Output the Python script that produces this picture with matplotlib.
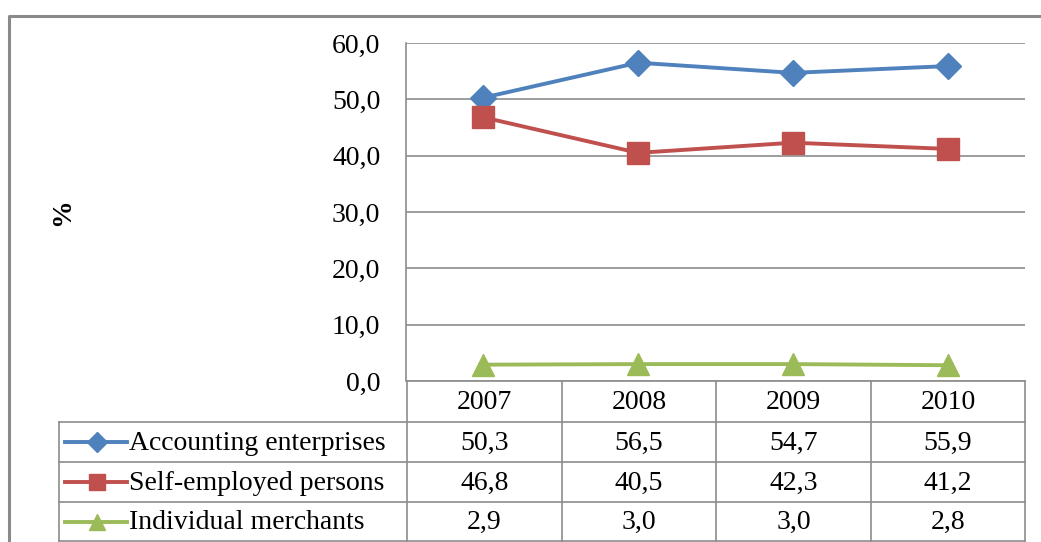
import matplotlib.pyplot as plt

years = ['2007', '2008', '2009', '2010']
series_names = ['Accounting enterprises', 'Self-employed persons', 'Individual merchants']
accounting = [50.3, 56.5, 54.7, 55.9]
self_employed = [46.8, 40.5, 42.3, 41.2]
merchants = [2.9, 3.0, 3.0, 2.8]
y_ticks = [0, 10, 20, 30, 40, 50, 60]

colors = ['#4F81BD', '#C0504D', '#9BBB59']
markers = ['D', 's', '^']
msizes = [13.5, 15.5, 16]

plt.rcParams['font.family'] = ['Liberation Serif', 'DejaVu Serif']
W, H = 1041, 542
FS = 20
fig = plt.figure(figsize=(W / 100, H / 100), dpi=100)

# overlay axes in pixel coordinates for frame + data table
ov = fig.add_axes([0, 0, 1, 1])
ov.set_xlim(0, W)
ov.set_ylim(H, 0)
ov.axis('off')

grid_c = '#8C8C8C'
# outer chart border (runs off right/bottom edge)
ov.plot([9, 9, W + 5], [H + 5, 16, 16], color='#8A8A8A', lw=2.2)

# plot area
x0, x1, ytop, ybot = 406, 1025, 43, 381
ax = fig.add_axes([x0 / W, 1 - ybot / H, (x1 - x0) / W, (ybot - ytop) / H])
ax.set_xlim(-0.5, len(years) - 0.5)
ax.set_ylim(0, 60)
ax.set_yticks(y_ticks)
ax.set_yticklabels([f'{v:.1f}'.replace('.', ',') for v in y_ticks], fontsize=FS)
ax.tick_params(axis='y', length=0, pad=18.5)
ax.set_xticks([])
ax.grid(axis='y', color=grid_c, lw=1.2)
ax.set_axisbelow(True)
for s in ['top', 'right', 'bottom']:
    ax.spines[s].set_visible(False)
ax.spines['left'].set_color(grid_c)
ax.spines['left'].set_linewidth(1.2)
ax.patch.set_alpha(0)

data = [accounting, self_employed, merchants]
xs = list(range(len(years)))
for vals, c, m, ms in zip(data, colors, markers, msizes):
    ax.plot(xs, vals, color=c, lw=2.8, marker=m, markersize=ms, clip_on=False)

fig.text(63 / W, 1 - 212 / H, '%', rotation=90, fontsize=FS, fontweight='bold',
         ha='center', va='center')

# data table
col_edges = [407, 562, 716, 871, 1025]
row_edges = [381, 422, 462, 502, 541]
tc = '#8C8C8C'
left = 59
for i, yy in enumerate(row_edges):
    xa = col_edges[0] if i == 0 else left
    ov.plot([xa, col_edges[-1]], [yy, yy], color=tc, lw=1.2)
for xx in col_edges:
    ov.plot([xx, xx], [row_edges[0], row_edges[-1]], color=tc, lw=1.2)
ov.plot([left, left], [row_edges[1], row_edges[-1]], color=tc, lw=1.2)

for j, yr in enumerate(years):
    cx = (col_edges[j] + col_edges[j + 1]) / 2
    ov.text(cx, (row_edges[0] + row_edges[1]) / 2 + 1, yr, ha='center', va='center', fontsize=FS)
for i, (name, vals) in enumerate(zip(series_names, data)):
    cy = (row_edges[i + 1] + row_edges[i + 2]) / 2
    ov.plot([65, 127], [cy, cy], color=colors[i], lw=2.8)
    ov.plot([97], [cy], color=colors[i], marker=markers[i], markersize=msizes[i] * 0.72, lw=0)
    ov.text(129, cy + 1, name, ha='left', va='center', fontsize=FS)
    for j, v in enumerate(vals):
        cx = (col_edges[j] + col_edges[j + 1]) / 2
        ov.text(cx, cy + 1, f'{v:.1f}'.replace('.', ','), ha='center', va='center', fontsize=FS)

fig.savefig('out.png', dpi=100)
